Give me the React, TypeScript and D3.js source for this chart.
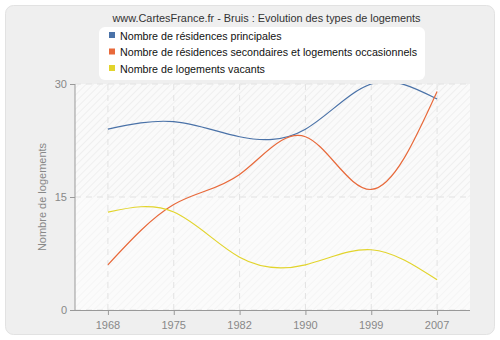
import React from "react";
import * as d3 from "d3";

const years = ["1968", "1975", "1982", "1990", "1999", "2007"];
const principales = [24, 25, 23, 24, 30, 28];
const secondaires = [6, 14, 18, 23, 16, 29];
const vacants = [13, 13, 7, 6, 8, 4];
const yTicks = [0, 15, 30];
const seriesNames = [
  "Nombre de résidences principales",
  "Nombre de résidences secondaires et logements occasionnels",
  "Nombre de logements vacants",
];
const colors = ["#4a72a8", "#e8693a", "#e2d42c"];

export default function App() {
  const W = 500, H = 340;
  const left = 75, right = 470, top = 84, bottom = 310;
  const x = d3.scalePoint<string>().domain(years).range([left, right]).padding(0.5);
  const y = d3.scaleLinear().domain([0, 30]).range([bottom, top]);
  const line = d3
    .line<number>()
    .x((_, i) => x(years[i]) as number)
    .y((d) => y(d))
    .curve(d3.curveNatural);
  const all = [principales, secondaires, vacants];
  const font = "'Liberation Sans', Arial, sans-serif";
  return (
    <svg width={W} height={H} style={{ position: "absolute", left: 0, top: 0 }} fontFamily={font}>
      <defs>
        <pattern id="hatch" width="5" height="5" patternUnits="userSpaceOnUse" patternTransform="rotate(45)">
          <rect width="5" height="5" fill="#fafafa" />
          <line x1="0" y1="0" x2="0" y2="5" stroke="#ececec" strokeWidth="1.5" />
        </pattern>
        <pattern id="hatch2" width="5" height="5" patternUnits="userSpaceOnUse" patternTransform="rotate(45)">
          <rect width="5" height="5" fill="#fbfbfb" />
          <line x1="0" y1="0" x2="0" y2="5" stroke="#f3f3f3" strokeWidth="1.5" />
        </pattern>
        <clipPath id="plotclip">
          <rect x={left} y={top} width={right - left} height={bottom - top} />
        </clipPath>
      </defs>
      <rect x={0} y={0} width={W} height={H} fill="#ffffff" />
      <rect x={5.5} y={5.5} width={489} height={329} rx={8} fill="#efefef" stroke="#e2e2e2" />
      <rect x={left} y={y(30)} width={right - left} height={y(15) - y(30)} fill="url(#hatch)" />
      <rect x={left} y={y(15)} width={right - left} height={y(0) - y(15)} fill="url(#hatch2)" />
      {years.map((yr) => (
        <line key={yr} x1={x(yr)} x2={x(yr)} y1={top} y2={bottom} stroke="#e2e2e2" strokeDasharray="6,5" />
      ))}
      {yTicks.map((t) => (
        <line key={t} x1={left} x2={right} y1={y(t)} y2={y(t)} stroke="#e2e2e2" strokeDasharray="6,5" />
      ))}
      <line x1={left} x2={left} y1={top} y2={bottom} stroke="#999" />
      <line x1={left} x2={right} y1={bottom + 0.5} y2={bottom + 0.5} stroke="#999" />
      {yTicks.map((t) => (
        <g key={t}>
          <line x1={left - 5} x2={left} y1={y(t) + 0.5} y2={y(t) + 0.5} stroke="#999" />
          <text x={left - 8} y={y(t) + 4} textAnchor="end" fontSize={11} fill="#888">{t}</text>
        </g>
      ))}
      {years.map((yr) => (
        <g key={yr}>
          <line x1={(x(yr) as number) + 0.5} x2={(x(yr) as number) + 0.5} y1={bottom} y2={bottom + 5} stroke="#999" />
          <text x={x(yr)} y={bottom + 19} textAnchor="middle" fontSize={11} fill="#888">{yr}</text>
        </g>
      ))}
      <text transform={`translate(46,${(top + bottom) / 2}) rotate(-90)`} textAnchor="middle" fontSize={11} fill="#888">
        Nombre de logements
      </text>
      <g clipPath="url(#plotclip)">
        {all.map((s, i) => (
          <path key={i} d={line(s) || ""} fill="none" stroke={colors[i]} strokeWidth={1.2} />
        ))}
      </g>
      <text x={266.5} y={22} textAnchor="middle" fontSize={10.9} fill="#333">
        www.CartesFrance.fr - Bruis : Evolution des types de logements
      </text>
      <rect x={99} y={27} width={326} height={53} rx={6} fill="#ffffff" />
      {seriesNames.map((n, i) => (
        <g key={n}>
          <rect x={109} y={32 + i * 16.5} width={6} height={6} fill={colors[i]} />
          <text x={120} y={39.5 + i * 16.5} fontSize={10.7} fill="#111">{n}</text>
        </g>
      ))}
    </svg>
  );
}
